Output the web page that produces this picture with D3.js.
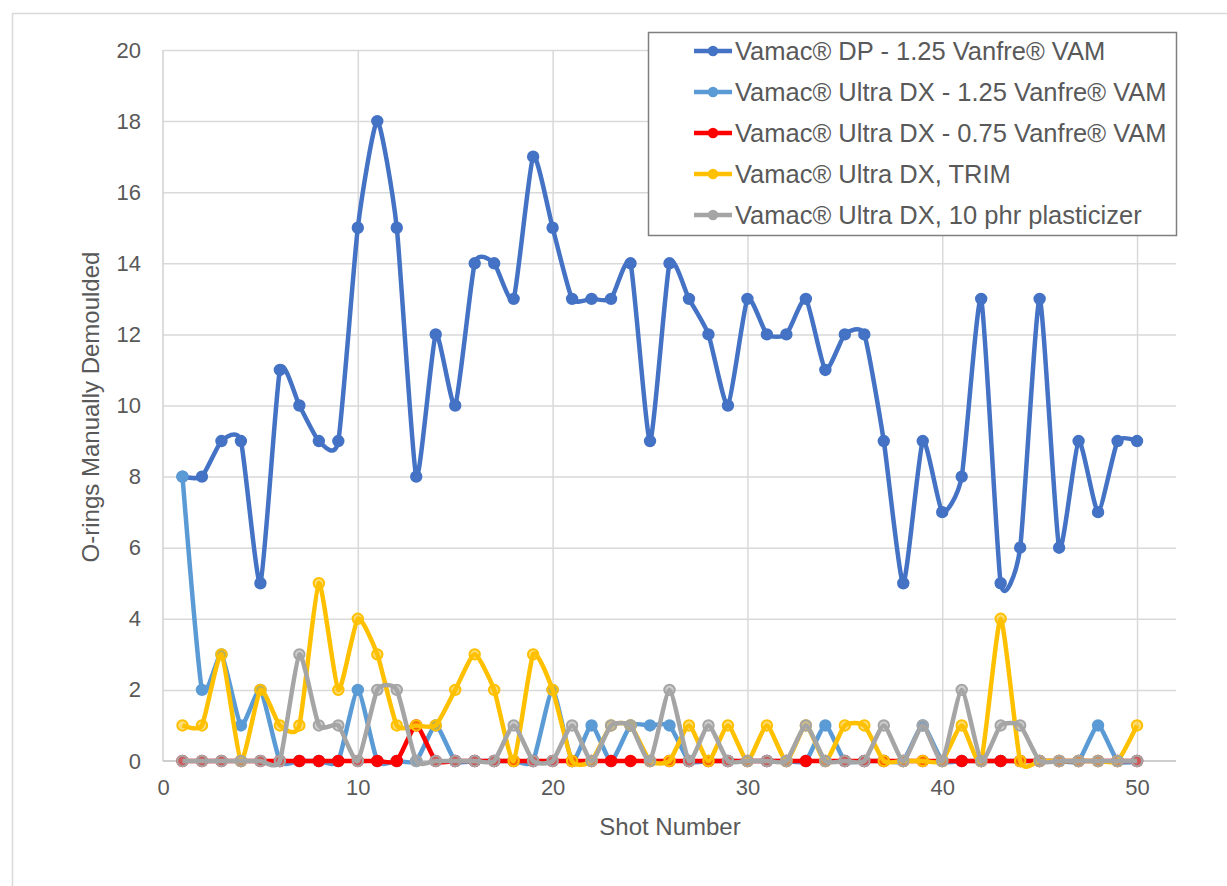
<!DOCTYPE html>
<html lang="en">
<head>
<meta charset="utf-8">
<title>O-rings manually demoulded per shot</title>
<script src="https://cdn.jsdelivr.net/npm/d3@7/dist/d3.min.js"></script>
<style>
  body { margin: 0; background: #fff; }
  .lbl { font-family: "Liberation Sans", Arial, sans-serif; fill: #595959; }
  .grid line { stroke: #d9d9d9; stroke-width: 1.5px; }
</style>
</head>
<body>
<svg id="chart" width="1227" height="886"></svg>
<script>
// shot number on x, count per shot for each compound
var shots = [1,2,3,4,5,6,7,8,9,10,11,12,13,14,15,16,17,18,19,20,21,22,23,24,25,
             26,27,28,29,30,31,32,33,34,35,36,37,38,39,40,41,42,43,44,45,46,47,48,49,50];

var seriesNames = [
  "Vamac\u00ae DP - 1.25 Vanfre\u00ae VAM",
  "Vamac\u00ae Ultra DX - 1.25 Vanfre\u00ae VAM",
  "Vamac\u00ae Ultra DX - 0.75 Vanfre\u00ae VAM",
  "Vamac\u00ae Ultra DX, TRIM",
  "Vamac\u00ae Ultra DX, 10 phr plasticizer"
];
var seriesColors = ["#4472c4", "#5b9bd5", "#ff0000", "#ffc000", "#a5a5a5"];

var dp125 = [8,8,9,9,5,11,10,9,9,15,18,15,8,12,10,14,14,13,17,15,13,13,13,14,9,
             14,13,12,10,13,12,12,13,11,12,12,9,5,9,7,8,13,5,6,13,6,9,7,9,9];
var udx125 = [8,2,3,1,2,0,0,0,0,2,0,0,0,1,0,0,0,0,0,2,0,1,0,1,1,
              1,0,0,0,0,0,0,0,1,0,0,0,0,1,0,0,0,0,0,0,0,0,1,0,0];
var udx075 = [0,0,0,0,0,0,0,0,0,0,0,0,1,0,0,0,0,0,0,0,0,0,0,0,0,
              0,0,0,0,0,0,0,0,0,0,0,0,0,0,0,0,0,0,0,0,0,0,0,0,0];
var udxTrim = [1,1,3,0,2,1,1,5,2,4,3,1,1,1,2,3,2,0,3,2,0,0,1,1,0,
               0,1,0,1,0,1,0,1,0,1,1,0,0,0,0,1,0,4,0,0,0,0,0,0,1];
var udxPlast = [0,0,0,0,0,0,3,1,1,0,2,2,0,0,0,0,0,1,0,0,1,0,1,1,0,
                2,0,1,0,0,0,0,1,0,0,0,1,0,1,0,2,0,1,1,0,0,0,0,0,0];

var xTicks = [0,10,20,30,40,50];
var yTicks = [0,2,4,6,8,10,12,14,16,18,20];

var svg = d3.select("#chart");
var plotL = 163, plotR = 1176, plotT = 50, plotB = 761;

var xScale = d3.scaleLinear().domain([0, 52]).range([plotL, plotR]);
var yScale = d3.scaleLinear().domain([0, 20]).range([plotB, plotT]);

// outer chart frame
svg.append("rect")
  .attr("x", 12.5).attr("y", 13.5)
  .attr("width", 1300).attr("height", 1000)
  .attr("fill", "none").attr("stroke", "#d9d9d9").attr("stroke-width", 1.5);

// gridlines
svg.append("g").attr("class", "grid")
  .attr("transform", "translate(0," + plotB + ")")
  .call(d3.axisBottom(xScale).tickValues(xTicks.slice(1)).tickSize(-(plotB - plotT)).tickFormat(""))
  .call(function(g){ g.select(".domain").remove(); });
svg.append("g").attr("class", "grid")
  .attr("transform", "translate(" + plotL + ",0)")
  .call(d3.axisLeft(yScale).tickValues(yTicks.slice(1)).tickSize(-(plotR - plotL)).tickFormat(""))
  .call(function(g){ g.select(".domain").remove(); });

// axis lines
svg.append("line").attr("x1", plotL).attr("x2", plotL).attr("y1", plotT).attr("y2", plotB)
  .attr("stroke", "#d0d0d0").attr("stroke-width", 1.5);
svg.append("line").attr("x1", plotL).attr("x2", plotR).attr("y1", plotB).attr("y2", plotB)
  .attr("stroke", "#bfbfbf").attr("stroke-width", 1.5);

// tick labels
var yAxis = svg.append("g")
  .attr("transform", "translate(" + (plotL - 16) + ",0)")
  .call(d3.axisLeft(yScale).tickValues(yTicks).tickSize(0).tickPadding(6));
yAxis.select(".domain").remove();
yAxis.selectAll("text").attr("class", "lbl").style("font-size", "22px");

var xAxis = svg.append("g")
  .attr("transform", "translate(0," + (plotB + 12) + ")")
  .call(d3.axisBottom(xScale).tickValues(xTicks).tickSize(0).tickPadding(6));
xAxis.select(".domain").remove();
xAxis.selectAll("text").attr("class", "lbl").style("font-size", "22px");

// axis titles
svg.append("text").attr("class", "lbl")
  .attr("x", 670).attr("y", 835)
  .attr("text-anchor", "middle").style("font-size", "24px")
  .text("Shot Number");
svg.append("text").attr("class", "lbl")
  .attr("transform", "translate(99,407) rotate(-90)")
  .attr("text-anchor", "middle").style("font-size", "24px")
  .text("O-rings Manually Demoulded");

// series
var allSeries = [dp125, udx125, udx075, udxTrim, udxPlast];
var line = d3.line()
  .x(function(d, i){ return xScale(shots[i]); })
  .y(function(d){ return yScale(d); })
  .curve(d3.curveCardinal.tension(0.45));

allSeries.forEach(function(values, k){
  var g = svg.append("g");
  g.append("path")
    .datum(values)
    .attr("d", line)
    .attr("fill", "none")
    .attr("stroke", seriesColors[k])
    .attr("stroke-width", 4.5)
    .attr("stroke-linejoin", "round");
  g.selectAll("circle")
    .data(values)
    .enter()
    .append("circle")
    .attr("cx", function(d, i){ return xScale(shots[i]); })
    .attr("cy", function(d){ return yScale(d); })
    .attr("r", 5.2)
    .attr("fill", seriesColors[k])
    .attr("fill-opacity", k >= 3 ? 0.55 : 1)
    .attr("stroke", seriesColors[k])
    .attr("stroke-width", 2);
});

// legend
var legend = svg.append("g");
legend.append("rect")
  .attr("x", 648.5).attr("y", 32.5)
  .attr("width", 528).attr("height", 203)
  .attr("fill", "#fff").attr("stroke", "#7f7f7f").attr("stroke-width", 1.5);

var rows = legend.selectAll(".row")
  .data(seriesNames)
  .enter()
  .append("g")
  .attr("class", "row")
  .attr("transform", function(d, i){ return "translate(0," + (51 + i * 41) + ")"; });
rows.append("line")
  .attr("x1", 694).attr("x2", 732)
  .attr("stroke", function(d, i){ return seriesColors[i]; })
  .attr("stroke-width", 4.5);
rows.append("circle")
  .attr("cx", 713).attr("r", 5.2)
  .attr("fill", function(d, i){ return seriesColors[i]; });
rows.append("text")
  .attr("class", "lbl")
  .attr("x", 735).attr("dy", "0.36em")
  .style("font-size", "25.5px")
  .text(function(d){ return d; });
</script>
</body>
</html>
